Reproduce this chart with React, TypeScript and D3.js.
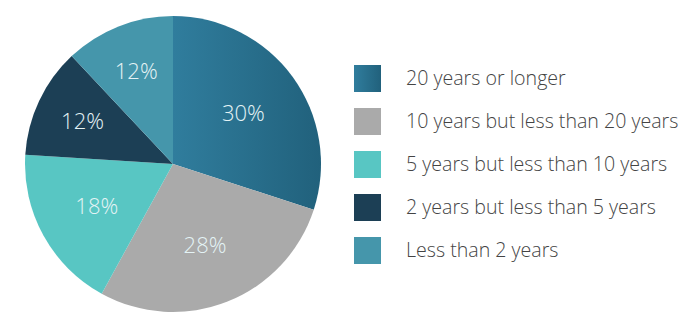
import React from "react";
import * as d3 from "d3";

const categories = [
  "20 years or longer",
  "10 years but less than 20 years",
  "5 years but less than 10 years",
  "2 years but less than 5 years",
  "Less than 2 years",
];
const values = [30, 28, 18, 12, 12];
const colors = ["url(#grad30)", "#aaaaaa", "#58c6c3", "#1c3f55", "#4596ab"];

export default function App() {
  const W = 700, H = 328;
  const cx = 173, cy = 164, r = 148;
  const pie = d3.pie<number>().sort(null).value((d) => d)(values);
  const arc = d3.arc<d3.PieArcDatum<number>>().innerRadius(0).outerRadius(r);
  const labelArc = d3.arc<d3.PieArcDatum<number>>().innerRadius(87).outerRadius(87);
  const smallLabelArc = d3.arc<d3.PieArcDatum<number>>().innerRadius(100).outerRadius(100);
  const legendY = d3.scaleBand<number>().domain(d3.range(categories.length)).range([57, 272]);
  return (
    <svg width={W} height={H} style={{ position: "absolute", left: 0, top: 0, background: "#fff" }}>
      <defs>
        <linearGradient id="grad30" gradientUnits="userSpaceOnUse" x1={0} y1={0} x2={r} y2={0}>
          <stop offset="0" stopColor="#307d9d" />
          <stop offset="1" stopColor="#21617c" />
        </linearGradient>
        <linearGradient id="gradLeg" x1="0" y1="0" x2="1" y2="0">
          <stop offset="0" stopColor="#307d9d" />
          <stop offset="1" stopColor="#21617c" />
        </linearGradient>
      </defs>
      <g transform={`translate(${cx},${cy})`}>
        {pie.map((p, i) => (
          <path key={i} d={arc(p) || ""} fill={colors[i]} />
        ))}
        {pie.map((p, i) => {
          const small = p.endAngle - p.startAngle < 1;
          const [x, y] = (small ? smallLabelArc : labelArc).centroid(p);
          return (
            <text key={"t" + i} x={x} y={y} dy="0.35em" textAnchor="middle"
              fontFamily="'Open Sans', sans-serif" fontWeight={300} fontSize={22}
              fill="#e4f3f5">
              {values[i]}%
            </text>
          );
        })}
      </g>
      {categories.map((c, i) => {
        const y = legendY(i)! + legendY.bandwidth() / 2;
        return (
          <g key={"l" + i}>
            <rect x={354} y={y - 13.5} width={27} height={27} fill={i === 0 ? "url(#gradLeg)" : colors[i]} />
            <text x={406} y={y} dy="0.35em" fontFamily="'Open Sans', sans-serif" fontWeight={300}
              fontSize={19.6} fill="#444444">
              {c}
            </text>
          </g>
        );
      })}
    </svg>
  );
}
